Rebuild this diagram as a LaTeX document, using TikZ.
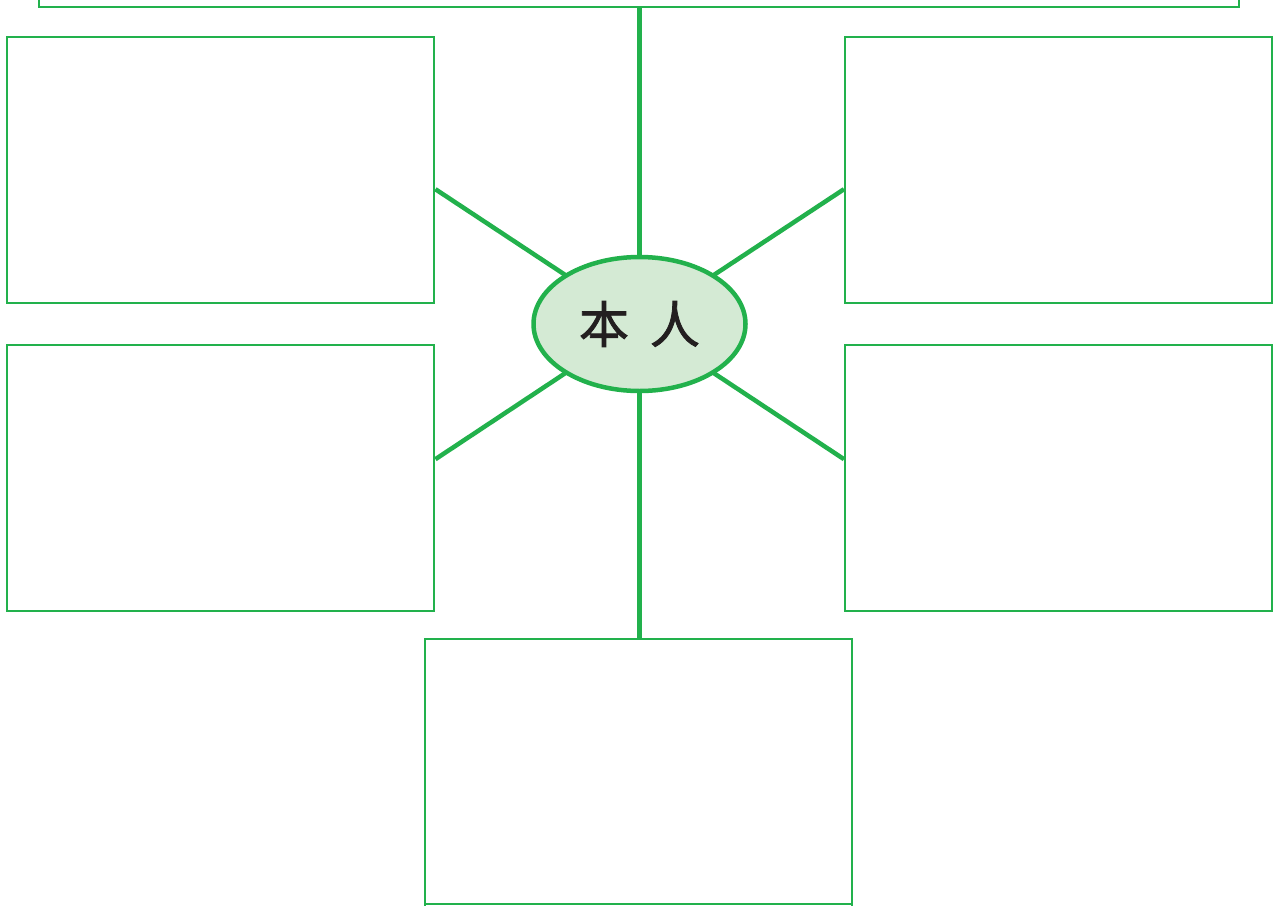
\documentclass[tikz,border=0pt]{standalone}
\usepackage{fontspec}
\newfontfamily\cjk[FakeBold=1.6]{Noto Sans CJK SC}
\definecolor{gline}{RGB}{34,177,76}
\definecolor{gfill}{RGB}{212,234,212}
\definecolor{tdark}{RGB}{35,31,32}
\begin{document}
\begin{tikzpicture}[x=1pt,y=-1pt,
  boxstyle/.style={draw=gline,line width=2.4pt},
  conn/.style={draw=gline,line width=4.5pt}]
\useasboundingbox (0,0) rectangle (1274,905);
% center ellipse position
\coordinate (c) at (639.5,324);
% boxes
\draw[boxstyle] (39,-20) rectangle (1239,7);
\coordinate (topb) at (639.5,7);
\node[boxstyle,inner sep=0,minimum width=427pt,minimum height=266pt,anchor=north west] (lt) at (6,36) {};
\node[boxstyle,inner sep=0,minimum width=427pt,minimum height=266pt,anchor=north west] (lb) at (6,344) {};
\node[boxstyle,inner sep=0,minimum width=427pt,minimum height=266pt,anchor=north west] (rt) at (844,36) {};
\node[boxstyle,inner sep=0,minimum width=427pt,minimum height=266pt,anchor=north west] (rb) at (844,344) {};
\draw[boxstyle] (425,930) -- (425,639) -- (852,639) -- (852,930);
\draw[boxstyle] (425,904) -- (852,904);
\coordinate (botb) at (639.5,639);
% connectors
\draw[conn] (topb) -- (c);
\draw[conn] (botb) -- (c);
\draw[conn] ([yshift=-19pt]lt.east) -- (c);
\draw[conn] ([yshift=19pt]lb.east) -- (c);
\draw[conn] ([yshift=-19pt]rt.west) -- (c);
\draw[conn] ([yshift=19pt]rb.west) -- (c);
% ellipse
\fill[gfill,draw=gline,line width=4.5pt] (c) ellipse [x radius=106, y radius=67];
\node[text=tdark,font=\cjk\fontsize{50}{50}\selectfont,inner sep=0] (ben) at (c) {本\hspace{0.42em}人};
\end{tikzpicture}
\end{document}
